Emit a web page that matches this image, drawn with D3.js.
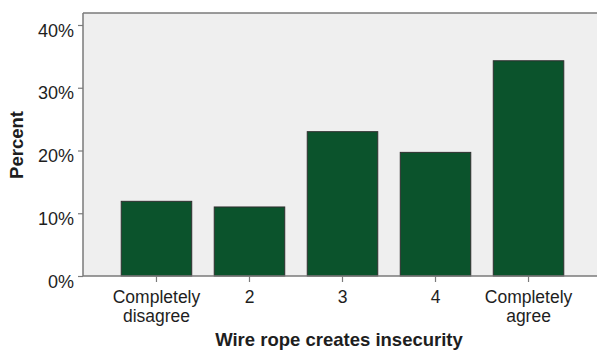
<!DOCTYPE html>
<html>
<head>
<meta charset="utf-8">
<script src="https://cdn.jsdelivr.net/npm/d3@7"></script>
<style>
html,body{margin:0;padding:0;background:#fff;}
svg{display:block;}
text{font-family:Arial,"Liberation Sans",sans-serif;fill:#1e1e1e;}
</style>
</head>
<body>
<svg id="chart" width="597" height="351"></svg>
<script>
const categories = [["Completely","disagree"],["2"],["3"],["4"],["Completely","agree"]];
const categoryKeys = ["Completely disagree","2","3","4","Completely agree"];
const values = [11.9, 11.0, 23.0, 19.7, 34.3];
const yTicks = [0, 10, 20, 30, 40];
const yTickLabels = ["0%","10%","20%","30%","40%"];
const xTitle = "Wire rope creates insecurity";
const yTitle = "Percent";

const svg = d3.select("#chart");
const pLeft = 83, pRight = 602, pTop = 13, pBottom = 276;

const x = d3.scaleBand().domain(categoryKeys).range([pLeft, pRight])
  .paddingInner(0.242).paddingOuter(0.411);
const y = d3.scaleLinear().domain([0, 40]).range([pBottom, 25]);

// plot background
svg.append("rect").attr("x", pLeft).attr("y", pTop)
  .attr("width", pRight - pLeft).attr("height", pBottom - pTop)
  .attr("fill", "#efefef");

// bars
svg.selectAll("rect.bar").data(values).enter().append("rect")
  .attr("class", "bar")
  .attr("x", (d, i) => x(categoryKeys[i]))
  .attr("y", d => y(d))
  .attr("width", x.bandwidth())
  .attr("height", d => y(0) - y(d))
  .attr("fill", "#0b532c")
  .attr("stroke", "#2f2f2f")
  .attr("stroke-width", 1);

// top frame line
svg.append("line").attr("x1", pLeft).attr("x2", pRight).attr("y1", pTop).attr("y2", pTop)
  .attr("stroke", "#7a7a7a").attr("stroke-width", 1.5);

// y axis
const yAxis = d3.axisLeft(y).tickValues(yTicks).tickSize(5)
  .tickFormat((d, i) => yTickLabels[i]);
const gy = svg.append("g").attr("transform", `translate(${pLeft},0)`).call(yAxis);
gy.select(".domain").attr("stroke", "#7a7a7a").attr("stroke-width", 1.5)
  .attr("d", `M0,${pTop}V${pBottom}`);
gy.selectAll(".tick line").attr("stroke", "#7a7a7a").attr("stroke-width", 1.2);
gy.selectAll(".tick text").attr("font-size", 18).attr("x", -9).attr("dy", null)
  .attr("y", 11).style("font-family", "Arial, 'Liberation Sans', sans-serif").attr("fill", "#1e1e1e");

// x axis
const xAxis = d3.axisBottom(x).tickSize(6).tickFormat("");
const gx = svg.append("g").attr("transform", `translate(0,${pBottom})`).call(xAxis);
gx.select(".domain").attr("stroke", "#7a7a7a").attr("stroke-width", 1.5)
  .attr("d", `M${pLeft},0H${pRight}`);
gx.selectAll(".tick line").attr("stroke", "#7a7a7a").attr("stroke-width", 1.2);
gx.selectAll(".tick").each(function(d, i) {
  const g = d3.select(this);
  categories[i].forEach((line, j) => {
    g.append("text")
      .attr("text-anchor", "middle").attr("font-size", 17.5).attr("fill", "#1e1e1e")
      .attr("x", 0).attr("y", 26.5 + j * 19).text(line);
  });
});

// axis titles
svg.append("text").attr("x", 339).attr("y", 346).attr("text-anchor", "middle")
  .attr("font-size", 18.5).attr("font-weight", "bold").text(xTitle);
svg.append("text").attr("transform", "translate(23,145) rotate(-90)")
  .attr("text-anchor", "middle").attr("font-size", 18.5).attr("font-weight", "bold").text(yTitle);
</script>
</body>
</html>
